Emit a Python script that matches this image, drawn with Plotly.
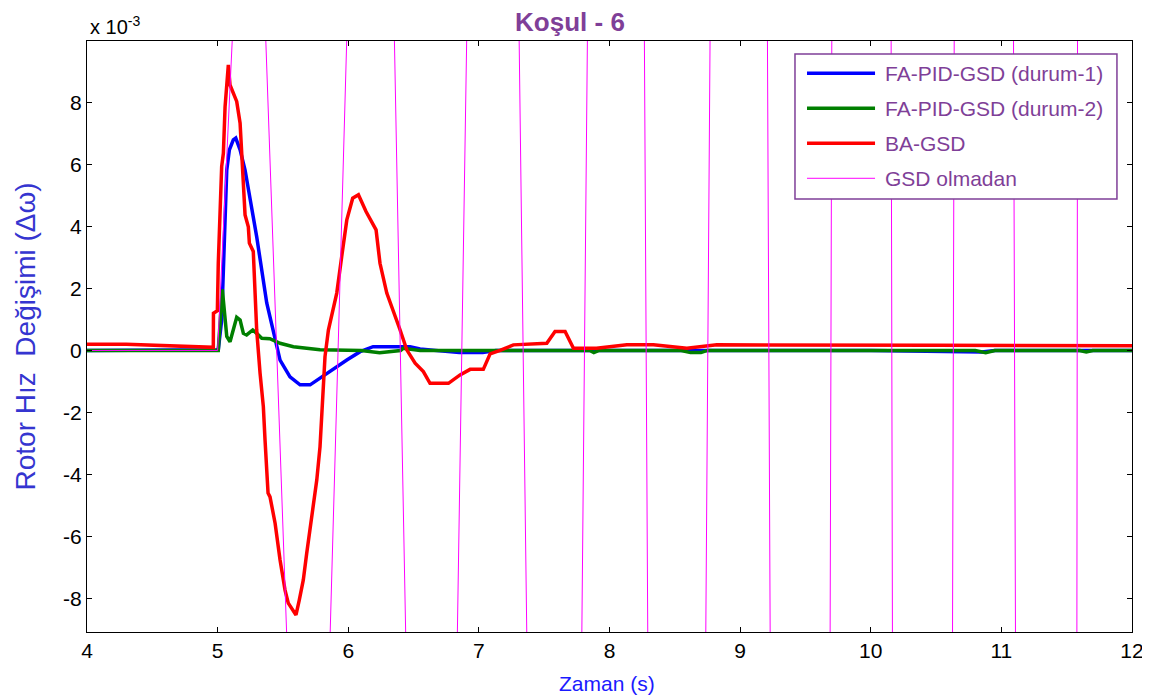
import plotly.graph_objects as go

# ---------------- data (values in units of 1e-3) ----------------
blue_t = [4.0, 5.0, 5.005, 5.031, 5.070, 5.090, 5.120, 5.139, 5.172, 5.210, 5.248, 5.299,
          5.376, 5.440, 5.478, 5.554, 5.631, 5.708, 5.784, 5.884, 5.989, 6.091, 6.190,
          6.320, 6.473, 6.55, 6.70, 6.85, 7.03, 7.13, 8.0, 10.0, 10.85, 10.95, 12.0]
blue_v = [0.0, 0.0, 0.02, 0.98, 5.82, 6.47, 6.79, 6.85, 6.47, 5.82, 4.96, 3.67,
          1.53, 0.34, -0.31, -0.85, -1.11, -1.11, -0.89, -0.63, -0.31, -0.04, 0.12,
          0.12, 0.12, 0.05, 0.0, -0.07, -0.07, 0.0, 0.0, 0.0, -0.05, 0.0, 0.0]

green_t = [4.0, 5.0, 5.005, 5.036, 5.070, 5.095, 5.146, 5.172, 5.197, 5.222, 5.269, 5.299,
           5.338, 5.40, 5.478, 5.58, 5.682, 5.784, 6.1, 6.24, 6.40, 6.42, 6.55, 7.0,
           7.85, 7.88, 7.92, 8.55, 8.62, 8.70, 8.75, 10.8, 10.88, 10.95, 11.6, 11.65, 11.7, 12.0]
green_v = [0.0, 0.0, 0.0, 1.97, 0.45, 0.28, 1.07, 0.98, 0.55, 0.50, 0.66, 0.55,
           0.39, 0.38, 0.23, 0.12, 0.07, 0.02, 0.0, -0.07, 0.0, 0.07, 0.0, 0.0,
           0.0, -0.07, 0.0, 0.0, -0.07, -0.07, 0.0, 0.0, -0.07, 0.0, 0.0, -0.05, 0.0, 0.0]

red_t = [4.0, 4.3, 4.967, 4.968, 4.998, 5.005, 5.031, 5.044, 5.057, 5.082, 5.095, 5.146,
         5.172, 5.184, 5.197, 5.210, 5.235, 5.243, 5.273, 5.280, 5.299, 5.325, 5.350,
         5.363, 5.386, 5.401, 5.44, 5.478, 5.516, 5.541, 5.579, 5.600, 5.625, 5.656,
         5.682, 5.72, 5.759, 5.784, 5.797, 5.81, 5.822, 5.848, 5.912, 5.950, 5.989,
         6.034, 6.078, 6.136, 6.213, 6.243, 6.295, 6.397, 6.448, 6.512, 6.575, 6.626,
         6.767, 6.856, 6.933, 7.034, 7.086, 7.162, 7.264, 7.52, 7.583, 7.66, 7.724,
         7.90, 8.133, 8.336, 8.592, 8.822, 9.31, 10.5, 12.0]
red_v = [0.2, 0.2, 0.1, 1.2, 1.28, 2.81, 5.93, 6.36, 7.86, 9.21, 8.56, 8.03,
         7.33, 6.25, 5.28, 4.37, 3.99, 3.46, 3.19, 2.38, 0.66, -0.74, -1.81,
         -2.89, -4.60, -4.72, -5.57, -6.76, -7.73, -8.15, -8.37, -8.53, -8.05, -7.40,
         -6.54, -5.47, -4.18, -3.10, -2.03, -0.95, -0.2, 0.66, 1.85, 3.03, 4.21,
         4.91, 5.02, 4.48, 3.89, 2.81, 1.85, 0.66, 0.02, -0.41, -0.68, -1.06,
         -1.06, -0.79, -0.61, -0.61, -0.11, 0.0, 0.18, 0.23, 0.61, 0.61, 0.07,
         0.07, 0.18, 0.18, 0.07, 0.18, 0.18, 0.17, 0.15]

# GSD olmadan: large oscillation, runs off the visible range (values beyond the axes)
gsd_t = [4.0, 5.0, 5.113, 5.368, 5.529, 5.861, 5.989, 6.353, 6.440, 6.835, 6.907, 7.308,
         7.367, 7.788, 7.831, 8.267, 8.293, 8.737, 8.770, 9.209, 9.230, 9.689, 9.702,
         10.156, 10.166, 10.626, 10.639, 11.093, 11.108, 11.578, 11.583, 12.0]
gsd_v = [0.0, 0.0, 10.1, 10.1, -9.2, -9.2, 10.1, 10.1, -9.2, -9.2, 10.1, 10.1,
         -9.2, -9.2, 10.1, 10.1, -9.2, -9.2, 10.1, 10.1, -9.2, -9.2, 10.1,
         10.1, -9.2, -9.2, 10.1, 10.1, -9.2, -9.2, 10.1, 10.1]

names = ["FA-PID-GSD (durum-1)", "FA-PID-GSD (durum-2)", "BA-GSD", "GSD olmadan"]
colors = ["#0000ff", "#007f00", "#ff0000", "#ff00ff"]
widths = [3.5, 3.5, 3.5, 1]

x_ticks = [4, 5, 6, 7, 8, 9, 10, 11, 12]
y_ticks = [-8, -6, -4, -2, 0, 2, 4, 6, 8]
y_ticktext = ["-8", "-6", "-4", "-2", "0", "2", "4", "6", "8"]

title_text = "Koşul - 6"
ylabel = "Rotor Hız \u00a0Değişimi (Δω)"
xlabel = "Zaman (s)"

PURPLE = "#7f3f98"
FONT = "Liberation Sans, Arial, sans-serif"

fig = go.Figure()
series = [(blue_t, blue_v), (green_t, green_v), (red_t, red_v), (gsd_t, gsd_v)]
for (t, v), n, c, w in zip(series, names, colors, widths):
    fig.add_trace(go.Scatter(x=t, y=v, mode="lines", name=n,
                             line=dict(color=c, width=w), showlegend=False))

axis_common = dict(showgrid=False, zeroline=False, showline=True, linecolor="black",
                   linewidth=1, mirror="ticks", ticks="inside", ticklen=5,
                   tickcolor="black", tickfont=dict(family=FONT, size=21, color="black"))
fig.update_xaxes(range=[4, 12], tickvals=x_ticks, **axis_common)
fig.update_yaxes(range=[-9.08, 9.98], tickvals=y_ticks, ticktext=y_ticktext, **axis_common)

# custom legend (matching reference box)
lx0, lx1, ly0, ly1 = 0.6775, 0.9856, 0.7327, 0.978
fig.add_shape(type="rect", xref="paper", yref="paper", x0=lx0, x1=lx1, y0=ly0, y1=ly1,
              line=dict(color=PURPLE, width=1.5), fillcolor="white", layer="above")
rows = [0.9453, 0.8861, 0.8269, 0.7677]
for n, c, w, ry in zip(names, colors, widths, rows):
    fig.add_shape(type="line", xref="paper", yref="paper", x0=0.6890, x1=0.7541,
                  y0=ry, y1=ry, line=dict(color=c, width=w), layer="above")
    fig.add_annotation(xref="paper", yref="paper", x=0.7617, y=ry, text=n,
                       showarrow=False, xanchor="left", yanchor="middle",
                       font=dict(family=FONT, size=21, color=PURPLE))

fig.add_annotation(xref="paper", yref="paper", x=0.001, y=1.027,
                   text="x 10<sup>-3</sup>", showarrow=False, xanchor="left",
                   yanchor="middle", font=dict(family=FONT, size=20, color="black"))
fig.add_annotation(xref="paper", yref="paper", x=-0.0584, y=0.5, text=ylabel,
                   textangle=-90, showarrow=False, xanchor="center", yanchor="middle",
                   font=dict(family=FONT, size=28, color="#3535d0"))
fig.add_annotation(xref="paper", yref="paper", x=0.4976, y=-0.0863, text=xlabel,
                   showarrow=False, xanchor="center", yanchor="middle",
                   font=dict(family=FONT, size=21, color="#1a1aff"))

# the page body adds an 8px offset; margins compensate so the plot area matches
fig.update_layout(
    width=1150, height=700,
    margin=dict(l=79, r=26, t=33, b=76),
    plot_bgcolor="white", paper_bgcolor="white",
    title=dict(text="<b>" + title_text + "</b>", x=0.4887, xanchor="center",
               y=0.98, yanchor="middle", xref="container", yref="container",
               font=dict(family=FONT, size=26, color=PURPLE)),
    showlegend=False,
)

fig.write_html("out.html")
